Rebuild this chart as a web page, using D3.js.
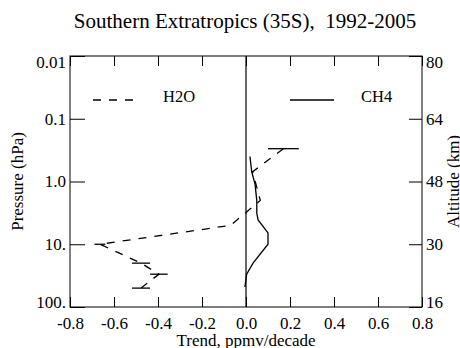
<!DOCTYPE html>
<meta charset="utf-8">
<style>
body { margin: 0; background: #fff; }
svg text { font-family: "Liberation Serif", "Times New Roman", serif; fill: #000; }
.axis .domain { display: none; }
.axis line { stroke: #000; }
</style>
<body>
<svg width="460" height="348"></svg>
<script src="https://d3js.org/d3.v7.min.js"></script>
<script>

// H2O trend profile (ppmv/decade) vs pressure (hPa)
var h2oPressure = [0.3, 0.7, 2, 5, 10, 20, 30, 50];
var h2oTrend    = [0.17, 0.03, 0.065, -0.07, -0.664, -0.477, -0.396, -0.477];
// error bar half-widths; 0 means none drawn
var h2oErr      = [0.07, 0, 0, 0, 0.025, 0.041, 0.04, 0.041];

// CH4 trend profile
var ch4Pressure = [0.4, 0.7, 1.1, 2, 3.2, 4.1, 6.6, 10, 20, 30, 48];
var ch4Trend    = [0.018, 0.026, 0.041, 0.049, 0.049, 0.055, 0.10, 0.10, 0.032, 0.003, -0.005];

var xTicks = [-0.8, -0.6, -0.4, -0.2, 0.0, 0.2, 0.4, 0.6, 0.8];
var pTicks = [0.01, 0.1, 1, 10, 100];
var pLabels = ["0.01", "0.1", "1.0", "10.", "100."];
var altLabels = ["80", "64", "48", "30", "16"];

var svg = d3.select("svg"),
    margin = {top: 56, right: 38, bottom: 41, left: 70},
    width = +svg.attr("width") - margin.left - margin.right,
    height = +svg.attr("height") - margin.top - margin.bottom,
    g = svg.append("g").attr("transform", "translate(" + margin.left + "," + margin.top + ")");

var x = d3.scaleLinear().domain([-0.8, 0.8]).range([0, width]);
var y = d3.scaleLog().domain([0.01, 100]).range([0, height]);

// title
svg.append("text")
    .attr("x", 245)
    .attr("y", 28)
    .attr("text-anchor", "middle")
    .attr("font-size", 21)
    .style("white-space", "pre")
    .text("Southern Extratropics (35S),  1992-2005");

// frame
g.append("rect")
    .attr("width", width)
    .attr("height", height)
    .attr("fill", "none")
    .attr("stroke", "#000");

// bottom axis
var xb = g.append("g")
    .attr("class", "axis")
    .attr("transform", "translate(0," + height + ")")
    .call(d3.axisBottom(x).tickValues(xTicks).tickSize(-10).tickPadding(10)
      .tickFormat(function(d) { return d.toFixed(1); }));
xb.selectAll("text").attr("font-size", 17);

// top axis, ticks only
g.append("g")
    .attr("class", "axis")
    .call(d3.axisTop(x).tickValues(xTicks).tickSize(-10).tickFormat(""));

// left axis
var yl = g.append("g")
    .attr("class", "axis")
    .call(d3.axisLeft(y).tickValues(pTicks).tickSize(-15).tickPadding(4)
      .tickFormat(function(d, i) { return pLabels[i]; }));
yl.selectAll("text").attr("font-size", 17)
    .attr("dy", function(d, i) { return i == 0 ? "0.7em" : (i == pTicks.length - 1 ? "0.05em" : "0.32em"); });

// right axis (altitude)
var yr = g.append("g")
    .attr("class", "axis")
    .attr("transform", "translate(" + width + ",0)")
    .call(d3.axisRight(y).tickValues(pTicks).tickSize(-13).tickPadding(4)
      .tickFormat(function(d, i) { return altLabels[i]; }));
yr.selectAll("text").attr("font-size", 17)
    .attr("dy", function(d, i) { return i == 0 ? "0.7em" : (i == pTicks.length - 1 ? "0.05em" : "0.32em"); });

// zero line
g.append("line")
    .attr("x1", x(0)).attr("x2", x(0))
    .attr("y1", 0).attr("y2", height)
    .attr("stroke", "#000")
    .attr("stroke-width", 1.2);

// axis titles
svg.append("text")
    .attr("x", margin.left + x(0))
    .attr("y", 346)
    .attr("text-anchor", "middle")
    .attr("font-size", 17)
    .text("Trend, ppmv/decade");

svg.append("text")
    .attr("transform", "translate(23," + (margin.top + height / 2) + ") rotate(-90)")
    .attr("text-anchor", "middle")
    .attr("font-size", 17)
    .text("Pressure (hPa)");

svg.append("text")
    .attr("transform", "translate(459," + (margin.top + height / 2) + ") rotate(-90)")
    .attr("text-anchor", "middle")
    .attr("font-size", 17)
    .text("Altitude (km)");

var line = d3.line()
    .x(function(d) { return x(d[0]); })
    .y(function(d) { return y(d[1]); });

var h2o = h2oTrend.map(function(v, i) { return [v, h2oPressure[i], h2oErr[i]]; });
var ch4 = ch4Trend.map(function(v, i) { return [v, ch4Pressure[i]]; });

g.append("path")
    .datum(h2o)
    .attr("d", line)
    .attr("fill", "none")
    .attr("stroke", "#000")
    .attr("stroke-width", 1.3)
    .attr("stroke-dasharray", "8,8");

g.selectAll(".err")
    .data(h2o.filter(function(d) { return d[2] > 0; }))
    .enter().append("line")
      .attr("class", "err")
      .attr("x1", function(d) { return x(d[0] - d[2]); })
      .attr("x2", function(d) { return x(d[0] + d[2]); })
      .attr("y1", function(d) { return y(d[1]); })
      .attr("y2", function(d) { return y(d[1]); })
      .attr("stroke", "#000")
      .attr("stroke-width", 1.3);

g.append("path")
    .datum(ch4)
    .attr("d", line)
    .attr("fill", "none")
    .attr("stroke", "#000")
    .attr("stroke-width", 1.3);

// legend
var legend = svg.append("g");
legend.append("line")
    .attr("x1", 93).attr("x2", 133).attr("y1", 100).attr("y2", 100)
    .attr("stroke", "#000").attr("stroke-width", 1.3).attr("stroke-dasharray", "8,8");
legend.append("text")
    .attr("x", 163).attr("y", 102).attr("font-size", 16.5).text("H2O");
legend.append("line")
    .attr("x1", 290).attr("x2", 334).attr("y1", 100).attr("y2", 100)
    .attr("stroke", "#000").attr("stroke-width", 1.3);
legend.append("text")
    .attr("x", 361).attr("y", 102).attr("font-size", 16.5).text("CH4");

</script>
</body>
